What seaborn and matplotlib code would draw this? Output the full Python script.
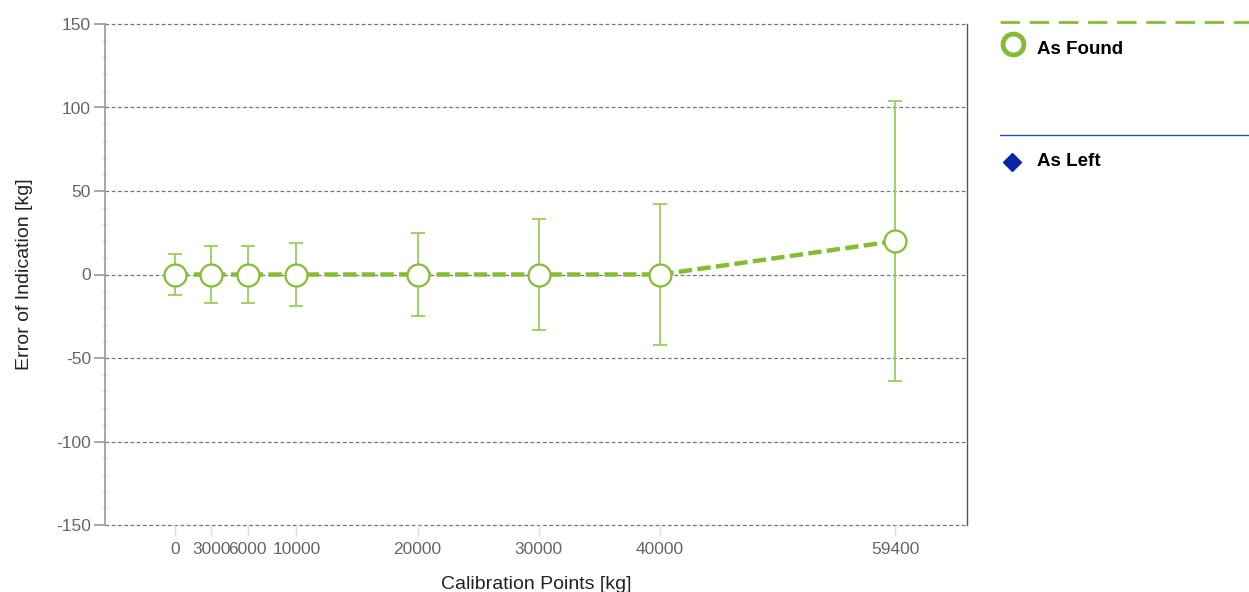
import numpy as np
import pandas as pd
import seaborn as sns
import matplotlib.pyplot as plt
from matplotlib.lines import Line2D
from matplotlib.ticker import MultipleLocator

# calibration data
points = [0, 3000, 6000, 10000, 20000, 30000, 40000, 59400]
asFound = [0, 0, 0, 0, 0, 0, 0, 20]
uncertainty = [12, 17, 17, 19, 25, 33, 42, 84]
yTicks = [-150, -100, -50, 0, 50, 100, 150]

green = '#84bd34'
errGreen = '#9acd5a'
blue = '#0a23a8'
grid = '#777777'

sns.set_theme(style='white')
plt.rcParams['font.family'] = ['Liberation Sans', 'DejaVu Sans']
plt.rcParams['axes.unicode_minus'] = False

d = pd.DataFrame({'point': points, 'error': asFound, 'unc': uncertainty})

fig = plt.figure(figsize=(12.49, 5.92), dpi=100)
ax = fig.add_axes([105/1249, 1-525/592, (967-105)/1249, (525-24)/592])

for y in yTicks:
    ax.axhline(y, color=grid, lw=0.9, ls=(0, (3, 2)), zorder=0, clip_on=False)

ax.errorbar(d.point, d.error, yerr=d.unc, fmt='none', ecolor=errGreen,
            elinewidth=1.3, capsize=4.8, capthick=1.3, zorder=2)
sns.lineplot(data=d, x='point', y='error', ax=ax, color=green, lw=3.2,
             dashes=False, linestyle=(0, (3, 1.2)), zorder=3)
ax.scatter(d.point, d.error, s=250, facecolor='white', edgecolor=green,
           linewidth=1.6, zorder=4)

ax.set_xlim(-5780, 65320)
ax.set_ylim(-150, 150)
ax.set_xticks(points)
ax.set_xticklabels([str(p) for p in points])
ax.set_yticks(yTicks)
ax.yaxis.set_minor_locator(MultipleLocator(10))

for s in ['top', 'bottom']:
    ax.spines[s].set_visible(False)
ax.spines['left'].set_color('#999999')
ax.spines['left'].set_linewidth(1.2)
ax.spines['right'].set_color('#555555')
ax.spines['right'].set_linewidth(1.0)

ax.tick_params(axis='y', which='major', left=True, length=8, width=1.2,
               color='#999999', labelcolor='#666666', labelsize=12.5, pad=2)
ax.tick_params(axis='y', which='minor', left=True, length=5, width=1,
               color='#e6e6e6', direction='inout')
ax.tick_params(axis='x', bottom=True, length=8, width=1, color='#dddddd',
               labelcolor='#666666', labelsize=12.5, pad=4, direction='out')

ax.set_xlabel('Calibration Points [kg]', fontsize=14, color='#222222', labelpad=14)
ax.set_ylabel('Error of Indication [kg]', fontsize=14, color='#222222', labelpad=17)

# legend panel on the right
lg = fig.add_axes([1000/1249, 0, 249/1249, 1])
lg.set_xlim(0, 249)
lg.set_ylim(592, 0)
lg.axis('off')
lg.add_line(Line2D([0, 249], [22, 22], color=green, lw=2, ls=(0, (7, 3.5))))
lg.add_line(Line2D([13], [44], marker='o', ms=15, mfc='white', mec=green, mew=3.5))
lg.text(37, 49, 'As Found', fontsize=13.5, fontweight='bold', va='center', color='black')
lg.add_line(Line2D([0, 249], [135, 135], color='#3347b5', lw=1))
lg.add_line(Line2D([12], [162], marker='D', ms=9, color=blue))
lg.text(37, 161, 'As Left', fontsize=13.5, fontweight='bold', va='center', color='black')

fig.savefig('out.png', dpi=100)
